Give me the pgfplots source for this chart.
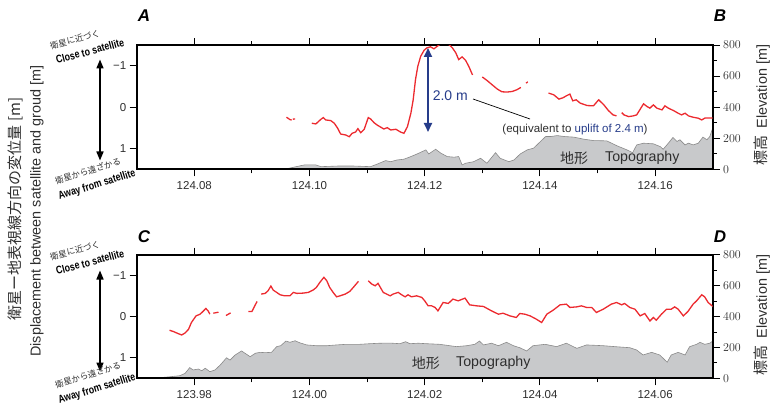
\documentclass[border=0pt]{standalone}
\usepackage{fontspec}
\setmainfont{Liberation Sans}
\newfontfamily\cjk{Noto Sans CJK JP}
\usepackage{graphicx}
\usepackage{pgfplots}
\pgfplotsset{compat=1.18}
\usepackage{pgfplotstable}
\usetikzlibrary{arrows.meta}
\definecolor{redline}{HTML}{EC2A2F}
\definecolor{topofill}{HTML}{C8C9CB}
\definecolor{topoedge}{HTML}{8A8A8A}
\definecolor{navy}{HTML}{263C8A}
\definecolor{txtgray}{HTML}{2E2E2E}

% x = longitude - 124 (degrees E), d = displacement [m], e = elevation [m]
\pgfplotstableread{
x d
0.0960 0.243
0.0966 0.300
0.0969 0.310
0.0970 nan
0.0971 0.291
0.0975 0.284
0.0990 nan
0.1004 0.388
0.1011 0.405
0.1020 0.291
0.1024 0.252
0.1028 0.308
0.1037 0.325
0.1043 0.388
0.1049 0.510
0.1054 0.648
0.1063 0.672
0.1069 0.714
0.1074 0.631
0.1080 0.600
0.1084 0.519
0.1089 0.617
0.1095 0.534
0.1102 0.252
0.1106 0.284
0.1112 0.374
0.1118 0.437
0.1124 0.485
0.1129 0.527
0.1135 0.495
0.1141 0.551
0.1150 0.534
0.1158 0.600
0.1164 0.631
0.1170 0.471
0.1176 0.146
0.1180 -0.177
0.1184 -0.663
0.1188 -0.985
0.1193 -1.228
0.1199 -1.374
0.1204 -1.432
0.1210 -1.456
0.1216 -1.408
0.1222 -1.471
0.1228 -1.536
0.1234 -1.585
0.1242 -1.512
0.1248 -1.432
0.1254 -1.311
0.1259 -1.148
0.1265 -1.214
0.1271 -1.131
0.1277 -0.971
0.1283 -0.777
0.1290 nan
0.1300 -0.728
0.1308 -0.646
0.1317 -0.541
0.1326 -0.437
0.1334 -0.371
0.1343 -0.364
0.1352 -0.379
0.1360 -0.420
0.1367 -0.476
0.1370 nan
0.1376 -0.578
0.1379 -0.612
0.1400 nan
0.1415 -0.340
0.1424 -0.299
0.1433 -0.194
0.1440 -0.226
0.1446 -0.274
0.1452 -0.316
0.1457 -0.153
0.1463 -0.177
0.1470 -0.097
0.1482 -0.039
0.1493 -0.032
0.1502 -0.177
0.1511 -0.056
0.1519 0.083
0.1527 0.187
0.1533 0.211
0.1538 nan
0.1542 0.131
0.1546 0.187
0.1554 0.228
0.1562 0.211
0.1568 0.187
0.1577 -0.015
0.1580 -0.080
0.1586 -0.015
0.1591 0.024
0.1597 -0.056
0.1603 0.024
0.1612 0.066
0.1617 -0.032
0.1623 0.024
0.1632 0.083
0.1640 0.146
0.1646 0.187
0.1652 0.146
0.1658 0.211
0.1666 0.243
0.1675 0.267
0.1681 0.308
0.1687 0.260
0.1695 0.260
0.1700 0.260
}\topred

\pgfplotstableread{
x e
0.0940 0
0.0962 5
0.0982 21
0.0991 28
0.1011 28
0.1020 17
0.1049 21
0.1077 21
0.1106 17
0.1118 34
0.1132 56
0.1141 49
0.1152 60
0.1164 65
0.1176 82
0.1187 99
0.1202 125
0.1207 99
0.1219 129
0.1228 104
0.1239 82
0.1251 78
0.1259 82
0.1265 28
0.1271 39
0.1285 49
0.1297 71
0.1308 39
0.1323 107
0.1331 71
0.1346 49
0.1355 60
0.1366 99
0.1378 125
0.1389 136
0.1401 179
0.1410 211
0.1419 211
0.1430 217
0.1442 211
0.1459 207
0.1476 194
0.1493 185
0.1516 183
0.1534 151
0.1551 125
0.1561 107
0.1568 157
0.1580 168
0.1597 164
0.1609 146
0.1614 129
0.1623 168
0.1631 205
0.1638 179
0.1643 190
0.1652 157
0.1658 168
0.1666 157
0.1675 168
0.1683 207
0.1690 190
0.1695 211
0.1700 265
}\toptopo

\pgfplotstableread{
x d
-0.0243 0.334
-0.0236 0.366
-0.0228 0.415
-0.0222 0.449
-0.0216 0.400
-0.0210 0.310
-0.0205 0.146
-0.0197 -0.015
-0.0190 -0.056
-0.0185 -0.122
-0.0180 -0.195
-0.0176 -0.137
-0.0173 -0.056
-0.0170 nan
-0.0167 -0.080
-0.0158 -0.105
-0.0150 nan
-0.0145 -0.024
-0.0137 -0.088
-0.0120 nan
-0.0106 -0.122
-0.0100 -0.122
-0.0095 -0.259
-0.0091 -0.366
-0.0088 nan
-0.0084 -0.544
-0.0077 -0.561
-0.0072 -0.624
-0.0067 -0.739
-0.0063 -0.641
-0.0057 -0.585
-0.0051 -0.527
-0.0043 -0.502
-0.0034 -0.502
-0.0028 -0.585
-0.0022 -0.561
-0.0011 -0.568
-0.0002 -0.585
0.0007 -0.649
0.0012 -0.707
0.0018 -0.829
0.0025 -0.951
0.0030 -0.868
0.0035 -0.707
0.0041 -0.585
0.0047 -0.478
0.0053 -0.502
0.0062 -0.544
0.0070 -0.610
0.0077 -0.722
0.0085 -0.854
0.0093 nan
0.0102 -0.868
0.0108 -0.788
0.0114 -0.746
0.0119 -0.805
0.0123 -0.707
0.0128 -0.585
0.0134 -0.544
0.0140 -0.502
0.0145 -0.544
0.0154 -0.585
0.0160 -0.527
0.0166 -0.478
0.0171 -0.527
0.0177 -0.478
0.0186 -0.502
0.0195 -0.463
0.0200 -0.380
0.0206 -0.259
0.0212 -0.259
0.0218 -0.220
0.0223 -0.137
0.0232 -0.341
0.0241 -0.317
0.0249 -0.422
0.0258 -0.380
0.0270 -0.446
0.0278 -0.283
0.0290 -0.259
0.0302 -0.244
0.0316 -0.137
0.0328 -0.056
0.0336 -0.080
0.0348 -0.015
0.0359 0.024
0.0365 -0.073
0.0374 -0.056
0.0383 -0.015
0.0394 0.066
0.0403 0.146
0.0412 -0.056
0.0423 -0.154
0.0435 -0.283
0.0446 -0.300
0.0452 -0.220
0.0464 -0.234
0.0472 -0.259
0.0481 -0.220
0.0490 -0.220
0.0498 -0.098
0.0510 -0.178
0.0524 -0.300
0.0533 -0.341
0.0542 -0.283
0.0547 -0.317
0.0556 -0.220
0.0565 -0.178
0.0574 -0.015
0.0582 -0.073
0.0591 0.107
0.0597 0.024
0.0602 0.090
0.0611 -0.056
0.0620 -0.178
0.0628 -0.178
0.0634 -0.234
0.0640 -0.178
0.0649 -0.015
0.0657 -0.122
0.0666 -0.300
0.0672 -0.380
0.0681 -0.527
0.0686 -0.478
0.0692 -0.341
0.0701 -0.234
}\botred

\pgfplotstableread{
x e
-0.0265 0
-0.0260 4
-0.0242 10
-0.0225 17
-0.0216 32
-0.0208 69
-0.0202 54
-0.0193 60
-0.0187 49
-0.0181 65
-0.0173 43
-0.0164 54
-0.0155 86
-0.0144 133
-0.0138 118
-0.0129 151
-0.0118 177
-0.0112 162
-0.0103 140
-0.0094 162
-0.0086 168
-0.0077 166
-0.0066 168
-0.0057 205
-0.0050 211
-0.0041 241
-0.0034 233
-0.0025 243
-0.0017 230
-0.0005 216
0.0012 211
0.0030 211
0.0047 216
0.0064 220
0.0087 220
0.0105 224
0.0122 227
0.0140 228
0.0157 224
0.0167 237
0.0174 224
0.0189 227
0.0203 224
0.0226 220
0.0255 205
0.0273 211
0.0287 220
0.0295 241
0.0302 216
0.0316 227
0.0328 211
0.0342 233
0.0354 211
0.0365 198
0.0377 177
0.0388 211
0.0409 220
0.0429 205
0.0446 227
0.0464 194
0.0481 216
0.0510 211
0.0530 205
0.0556 198
0.0568 183
0.0579 151
0.0594 168
0.0608 151
0.0621 104
0.0628 151
0.0640 168
0.0652 151
0.0660 205
0.0672 220
0.0678 233
0.0686 220
0.0695 227
0.0700 241
}\bottopo

\pgfplotsset{
  panel/.style={
    anchor=south west, width=576pt, scale only axis,
    scaled x ticks=false, scaled y ticks=false,
    tick align=outside, major tick length=7pt, minor tick length=4pt,
    every tick/.style={black, line width=0.9pt},
    axis line style={black, line width=1.8pt},
    tick label style={font=\fontsize{11.5}{13}\selectfont, text=txtgray},
  },
  elev/.style={
    panel, ymin=0, ymax=800, ytick={0,200,400,600,800}, minor y tick num=1,
    minor x tick num=1,
    xtick pos=both, xticklabel pos=left, ytick pos=right, yticklabel pos=right,
    xticklabel style={yshift=-2pt},
    axis on top,
  },
  disp/.style={
    panel, ymin=-1.5, ymax=1.5, y dir=reverse, hide x axis, axis y line*=left,
    xtick=\empty,
    ytick={-1,0,1}, yticklabels={−1,0,1}, unbounded coords=jump,
  },
}

\begin{document}
\begin{tikzpicture}
\useasboundingbox (0,0) rectangle (776pt,405pt);

% ---------- top panel ----------
\begin{axis}[elev, at={(136.7pt,235.7pt)}, height=124.3pt,
  xmin=0.07, xmax=0.17,
  xtick={0.08,0.10,0.12,0.14,0.16},
  xticklabels={124.08,124.10,124.12,124.14,124.16}]
\addplot[fill=topofill, draw=topoedge, line width=0.6pt] table[x=x,y=e] {\toptopo} \closedcycle;
\end{axis}
\begin{axis}[disp, at={(136.7pt,235.7pt)}, height=124.3pt, xmin=0.07, xmax=0.17]
\addplot[redline, line width=1.3pt] table[x=x,y=d] {\topred};
\end{axis}

% ---------- bottom panel ----------
\begin{axis}[elev, at={(136.7pt,26.7pt)}, height=123.6pt,
  xmin=-0.03, xmax=0.07,
  xtick={-0.02,0,0.02,0.04,0.06},
  xticklabels={123.98,124.00,124.02,124.04,124.06}]
\addplot[fill=topofill, draw=topoedge, line width=0.6pt] table[x=x,y=e] {\bottopo} \closedcycle;
\end{axis}
\begin{axis}[disp, at={(136.7pt,26.7pt)}, height=123.6pt, xmin=-0.03, xmax=0.07]
\addplot[redline, line width=1.3pt] table[x=x,y=d] {\botred};
\end{axis}

% ---------- annotations (pixel coordinates, y downwards) ----------
\begin{scope}[x=1pt, y=-1pt, shift={(0pt,405pt)}]
  % panel letters
  \foreach \L/\px/\py in {A/144/16, B/720/16, C/144/237, D/720/237}
    \node[font=\fontsize{17}{19}\selectfont\bfseries\itshape] at (\px,\py) {\L};

  % left axis titles
  \node[rotate=90, text=txtgray, font=\cjk\fontsize{15}{17}\selectfont] at (15,209)
    {衛星ー地表視線方向の変位量 [m]};
  \node[rotate=90, text=txtgray, font=\fontsize{14.4}{16}\selectfont] at (37,211)
    {Displacement between satellite and groud [m]};

  % right axis titles
  \foreach \cy in {105,315}
    \node[rotate=90, text=txtgray, font=\fontsize{14.4}{16}\selectfont] at (762,\cy)
      {{\cjk\fontsize{15}{17}\selectfont 標高}\hspace{7pt}Elevation [m]};

  % direction arrows and labels
  \foreach \dy/\ay in {0/185,211/389} {
    \draw[black, line width=1.6pt, {Triangle[length=9pt,width=7pt]}-{Triangle[length=9pt,width=7pt]}]
      (100,59.5+\dy) -- (100,160.5+\dy);
    \node[rotate=15, inner sep=0pt, text=txtgray, font=\cjk\fontsize{8.5}{10}\selectfont] at (75,39.5+\dy) {衛星に近づく};
    \node[rotate=15, inner sep=0pt, font=\fontsize{11}{12}\selectfont\bfseries] at (90,51+\dy) {\scalebox{0.8}[1]{Close to satellite}};
    \node[rotate=17, inner sep=0pt, text=txtgray, font=\cjk\fontsize{8.5}{10}\selectfont] at (88,\ay-14) {衛星から遠ざかる};
    \node[rotate=17, inner sep=0pt, font=\fontsize{11}{12}\selectfont\bfseries] at (97,\ay) {\scalebox{0.8}[1]{Away from satellite}};
  }

  % 2.0 m annotation
  \draw[navy, line width=2pt, {Triangle[length=9pt,width=8pt]}-{Triangle[length=9pt,width=8pt]}]
    (428,48) -- (428,132);
  \node[text=navy, font=\fontsize{14}{16}\selectfont] at (450.3,96) {2.0 m};
  \draw[black, line width=0.7pt] (473,99) -- (530,119);
  \node[text=txtgray, font=\fontsize{11.5}{13}\selectfont] at (575,129.3)
    {(equivalent to \textcolor{navy}{uplift of 2.4 m})};

  % topography labels
  \node[text=txtgray, font=\cjk\fontsize{14}{16}\selectfont] at (574,158.3) {地形};
  \node[text=txtgray, font=\fontsize{14.2}{16}\selectfont] at (642.3,158.3) {Topography};
  \node[text=txtgray, font=\cjk\fontsize{14}{16}\selectfont] at (425.8,363.3) {地形};
  \node[text=txtgray, font=\fontsize{14.2}{16}\selectfont] at (493.3,363.3) {Topography};
\end{scope}
\end{tikzpicture}
\end{document}
